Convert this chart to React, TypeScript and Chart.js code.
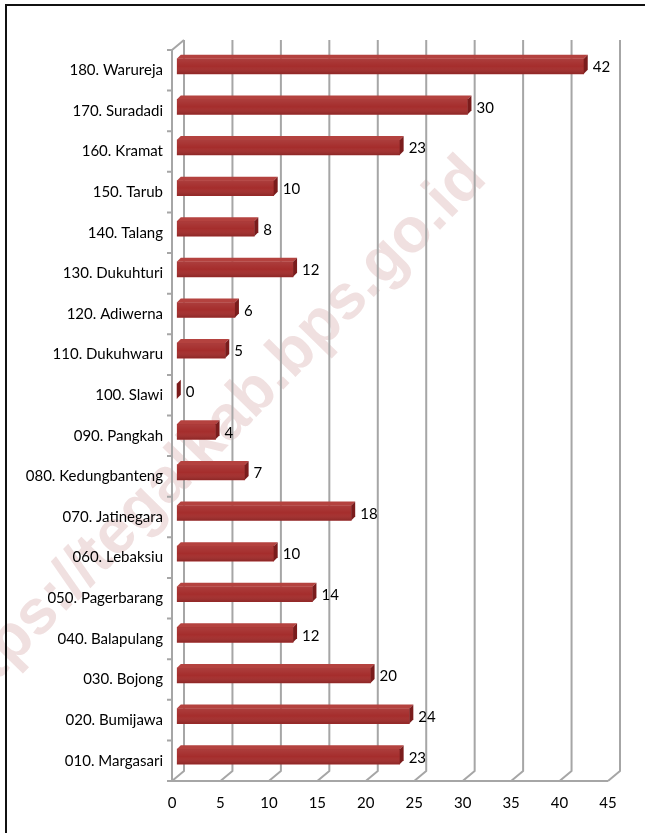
import React, { useEffect, useRef } from "react";
import { Chart, registerables } from "chart.js";

Chart.register(...registerables);

const categories = [
  "180. Warureja",
  "170. Suradadi",
  "160. Kramat",
  "150. Tarub",
  "140. Talang",
  "130. Dukuhturi",
  "120. Adiwerna",
  "110. Dukuhwaru",
  "100. Slawi",
  "090. Pangkah",
  "080. Kedungbanteng",
  "070. Jatinegara",
  "060. Lebaksiu",
  "050. Pagerbarang",
  "040. Balapulang",
  "030. Bojong",
  "020. Bumijawa",
  "010. Margasari",
];
const values = [42, 30, 23, 10, 8, 12, 6, 5, 0, 4, 7, 18, 10, 14, 12, 20, 24, 23];
const xTickValues = [0, 5, 10, 15, 20, 25, 30, 35, 40, 45];
const xMax = 45;
const watermarkText = "https://tegalkab.bps.go.id";

// 3D geometry (pixels)
const WALL_DX = 12;
const WALL_DY = 10;
const BAR_SHIFT_X = 4.8;
const BAR_SHIFT_Y = 4;
const BAR_DEPTH = 4;
const GRID = "#a6a6a6";
const FONT = "Lato, 'Open Sans', sans-serif";

const depthPlugin = {
  id: "depth3d",
  beforeDraw(chart: any) {
    const { ctx, width, height } = chart;
    ctx.save();
    ctx.fillStyle = "#ffffff";
    ctx.fillRect(0, 0, width, height);
    // watermark
    ctx.translate(476, 168);
    ctx.rotate(-Math.PI / 4 - 0.01);
    ctx.font = "bold 63px 'Liberation Sans', Arial, sans-serif";
    ctx.textAlign = "right";
    ctx.textBaseline = "middle";
    ctx.fillStyle = "#f0e0e0";
    ctx.fillText(watermarkText, 0, 0);
    ctx.restore();
  },
  beforeDatasetsDraw(chart: any) {
    const { ctx, chartArea: a } = chart;
    const xs = chart.scales.x;
    ctx.save();
    ctx.strokeStyle = GRID;
    ctx.lineWidth = 2;
    ctx.lineJoin = "round";
    xTickValues.forEach((v) => {
      const xf = xs.getPixelForValue(v);
      ctx.beginPath();
      ctx.moveTo(xf + WALL_DX, a.top - WALL_DY);
      ctx.lineTo(xf + WALL_DX, a.bottom - WALL_DY);
      ctx.lineTo(xf, a.bottom);
      ctx.stroke();
    });
    // left wall front edge and floor front edge
    ctx.beginPath();
    ctx.moveTo(a.left + WALL_DX, a.top - WALL_DY);
    ctx.lineTo(a.left, a.top);
    ctx.lineTo(a.left, a.bottom);
    ctx.lineTo(xs.getPixelForValue(xMax), a.bottom);
    ctx.stroke();
    // category tick marks
    const n = categories.length;
    const band = (a.bottom - a.top) / n;
    ctx.beginPath();
    for (let k = 0; k <= n; k++) {
      const yy = a.top + k * band;
      ctx.moveTo(a.left - 5, yy);
      ctx.lineTo(a.left, yy);
    }
    ctx.stroke();
    ctx.restore();
    // shift bars into the middle depth
    ctx.save();
    ctx.translate(BAR_SHIFT_X, -BAR_SHIFT_Y);
  },
  afterDatasetsDraw(chart: any) {
    const { ctx } = chart;
    const meta = chart.getDatasetMeta(0);
    meta.data.forEach((bar: any, i: number) => {
      const p = bar.getProps(["x", "y", "base", "height"], true);
      const x0 = Math.min(p.base, p.x);
      const x1 = Math.max(p.base, p.x);
      const top = p.y - p.height / 2;
      const bot = p.y + p.height / 2;
      // shading on front face
      if (x1 > x0) {
        const g = ctx.createLinearGradient(0, top, 0, bot);
        g.addColorStop(0, "rgba(255,255,255,0.08)");
        g.addColorStop(0.5, "rgba(255,255,255,0)");
        g.addColorStop(1, "rgba(0,0,0,0.15)");
        ctx.fillStyle = g;
        ctx.fillRect(x0, top, x1 - x0, bot - top);
      }
      // top face
      ctx.beginPath();
      ctx.moveTo(x0, top);
      ctx.lineTo(x1, top);
      ctx.lineTo(x1 + BAR_DEPTH, top - BAR_DEPTH);
      ctx.lineTo(x0 + BAR_DEPTH, top - BAR_DEPTH);
      ctx.closePath();
      ctx.fillStyle = "#b4423f";
      ctx.fill();
      // end cap
      ctx.beginPath();
      ctx.moveTo(x1, top);
      ctx.lineTo(x1 + BAR_DEPTH, top - BAR_DEPTH);
      ctx.lineTo(x1 + BAR_DEPTH, bot - BAR_DEPTH);
      ctx.lineTo(x1, bot);
      ctx.closePath();
      ctx.fillStyle = "#7a1c1c";
      ctx.fill();
      // value label
      ctx.fillStyle = "#000000";
      ctx.font = `15px ${FONT}`;
      ctx.textAlign = "left";
      ctx.textBaseline = "middle";
      ctx.fillText(String(values[i]), x1 + BAR_DEPTH + 5, p.y + 1);
    });
    ctx.restore();
  },
};

export default function App() {
  const canvasRef = useRef<HTMLCanvasElement | null>(null);

  useEffect(() => {
    const canvas = canvasRef.current;
    if (!canvas) return;
    const chart = new Chart(canvas, {
      type: "bar",
      data: {
        labels: categories,
        datasets: [
          {
            data: values,
            backgroundColor: "#a52d2c",
            borderWidth: 0,
            barThickness: 15,
          },
        ],
      },
      options: {
        indexAxis: "y",
        animation: false,
        responsive: false,
        devicePixelRatio: 1,
        layout: { padding: { top: 50, right: 37, left: 0, bottom: 0 } },
        plugins: {
          legend: { display: false },
          tooltip: { enabled: false },
          title: { display: false },
        },
        scales: {
          x: {
            min: 0,
            max: xMax,
            afterBuildTicks: (s: any) => {
              s.ticks = xTickValues.map((v) => ({ value: v }));
            },
            afterFit: (s: any) => {
              s.height = 52;
            },
            grid: { display: false, drawTicks: false },
            border: { display: false },
            ticks: {
              padding: 13,
              color: "#000000",
              font: { family: FONT, size: 15 },
            },
          },
          y: {
            afterFit: (s: any) => {
              s.width = 172;
            },
            grid: { display: false, drawTicks: false },
            border: { display: false },
            ticks: {
              padding: 9,
              color: "#000000",
              font: { family: FONT, size: 15 },
            },
          },
        },
      },
      plugins: [depthPlugin],
    });
    return () => chart.destroy();
  }, []);

  return (
    <div
      style={{
        position: "absolute",
        left: 0,
        top: 0,
        width: 645,
        height: 833,
        overflow: "hidden",
        background: "#fff",
      }}
    >
      <canvas
        ref={canvasRef}
        width={645}
        height={833}
        style={{ position: "absolute", left: 0, top: 0, width: 645, height: 833 }}
      />
      <div
        style={{
          position: "absolute",
          left: 5,
          top: 4,
          width: 700,
          height: 900,
          border: "2px solid #111",
          pointerEvents: "none",
        }}
      />
    </div>
  );
}
